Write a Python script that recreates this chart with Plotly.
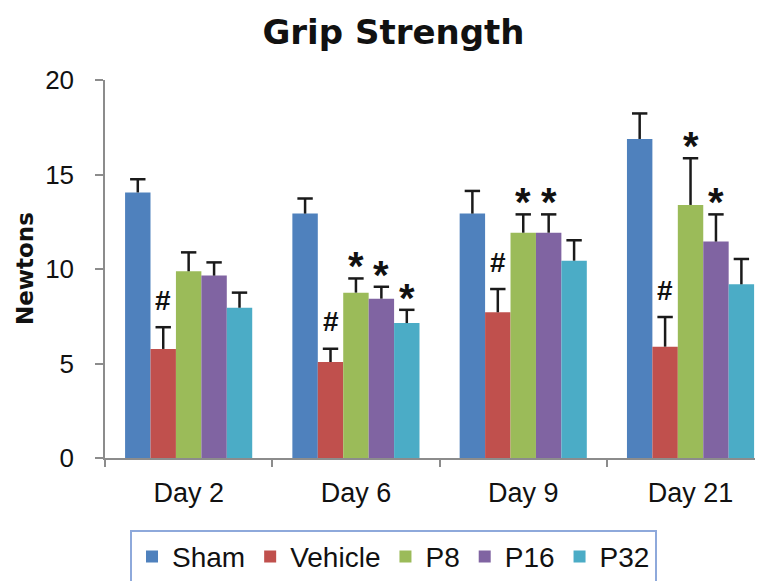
import plotly.graph_objects as go

days = ["Day 2", "Day 6", "Day 9", "Day 21"]
groups = ["Sham", "Vehicle", "P8", "P16", "P32"]
colors = ["#4F81BD", "#C0504D", "#9BBB59", "#8064A2", "#4BACC6"]

sham = [14.05, 12.93, 12.93, 16.88]
vehicle = [5.77, 5.08, 7.71, 5.89]
p8 = [9.88, 8.75, 11.92, 13.39]
p16 = [9.65, 8.43, 11.92, 11.45]
p32 = [7.95, 7.14, 10.44, 9.19]

sham_err = [0.7, 0.8, 1.2, 1.35]
vehicle_err = [1.15, 0.7, 1.23, 1.57]
p8_err = [1.0, 0.75, 0.97, 2.47]
p16_err = [0.7, 0.63, 0.97, 1.44]
p32_err = [0.8, 0.7, 1.08, 1.34]

values = [sham, vehicle, p8, p16, p32]
errors = [sham_err, vehicle_err, p8_err, p16_err, p32_err]

# significance marks: (group index, day index, symbol)
marks = [
    (1, 0, "#"), (1, 1, "#"), (1, 2, "#"), (1, 3, "#"),
    (2, 1, "*"), (3, 1, "*"), (4, 1, "*"),
    (2, 2, "*"), (3, 2, "*"),
    (2, 3, "*"), (3, 3, "*"),
]

FONT = "Liberation Sans, Arial, sans-serif"
BOLD = "DejaVu Sans, sans-serif"
XRANGE = [-0.5, 3.481]

n = len(groups)
bargap = 0.24
bw = (1 - bargap) / n

def xpos(gi, di):
    return di - (1 - bargap) / 2 + bw * (gi + 0.5)

fig = go.Figure()
for name, vals, errs, col in zip(groups, values, errors, colors):
    fig.add_trace(go.Bar(
        name=name, x=days, y=vals, marker=dict(color=col, line=dict(width=0)),
        error_y=dict(type="data", array=errs, symmetric=False, arrayminus=[0]*len(errs),
                     color="#1a1a1a", thickness=2.5, width=0),
    ))

# error-bar caps on an overlaid numeric axis
cap_x, cap_y = [], []
for gi in range(n):
    for di in range(len(days)):
        cap_x.append(xpos(gi, di))
        cap_y.append(values[gi][di] + errors[gi][di])
fig.add_trace(go.Scatter(
    x=cap_x, y=cap_y, xaxis="x2", mode="markers", showlegend=False, hoverinfo="skip",
    marker=dict(symbol="line-ew", size=11, line=dict(width=2.5, color="#1a1a1a")),
))

for gi, di, sym in marks:
    top = values[gi][di] + errors[gi][di]
    if sym == "#":
        fig.add_annotation(x=xpos(gi, di), y=top, xref="x2", yref="y", text="<b>#</b>", showarrow=False,
                           yanchor="middle", yshift=27,
                           font=dict(family=FONT, size=28, color="#111"))
    else:
        fig.add_annotation(x=xpos(gi, di), y=top, xref="x2", yref="y", text="<b>*</b>", showarrow=False,
                           yanchor="middle", yshift=12,
                           font=dict(family=FONT, size=40, color="#111"))

fig.add_annotation(x=-0.1426, y=0.5, xref="paper", yref="paper", text="<b>Newtons</b>",
                   textangle=-90, showarrow=False, font=dict(family=BOLD, size=23, color="#111"))

fig.update_layout(
    width=763, height=581,
    margin=dict(l=97, r=0, t=72, b=131, autoexpand=False),
    paper_bgcolor="white", plot_bgcolor="white",
    barmode="group", bargap=bargap, bargroupgap=0,
    title=dict(text="<b>Grip Strength</b>", x=0.5052, xanchor="center", y=0.959, yanchor="middle",
               font=dict(family=BOLD, size=34, color="#111")),
    font=dict(family=FONT, color="#111"),
    showlegend=True,
    legend=dict(orientation="h", x=0.4332, xanchor="center", y=-0.19, yanchor="top",
                bordercolor="#8EA9DB", borderwidth=2, font=dict(family=FONT, size=28, color="#111"),
                itemwidth=30, traceorder="normal"),
    xaxis2=dict(overlaying="x", range=XRANGE, visible=False, automargin=False),
)
fig.update_layout(xaxis=dict(type="category", range=XRANGE, showline=True, linecolor="#8c8c8c", linewidth=1.5,
                 ticks="outside", tickson="boundaries", ticklen=7, tickcolor="#8c8c8c", tickwidth=1.5,
                 ticklabelstandoff=10, automargin=False,
                 tickfont=dict(family=FONT, size=27, color="#111"), showgrid=False, zeroline=False))
fig.update_yaxes(range=[0, 20], dtick=5, showline=True, linecolor="#8c8c8c", linewidth=1.5,
                 ticks="outside", ticklen=8, tickcolor="#8c8c8c", tickwidth=1.5, automargin=False,
                 ticklabelstandoff=16,
                 tickfont=dict(family=FONT, size=26, color="#111"), showgrid=False, zeroline=False)

fig.write_html("out.html")
